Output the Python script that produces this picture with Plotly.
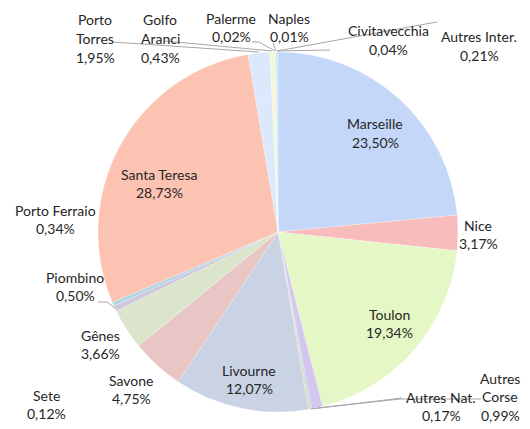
import plotly.graph_objects as go

# ---- data ----
ports = ["Marseille", "Nice", "Toulon", "Autres Corse", "Autres Nat.", "Sete",
         "Livourne", "Savone", "Gênes", "Piombino", "Porto Ferraio", "Santa Teresa",
         "Porto Torres", "Golfo Aranci", "Palerme", "Naples", "Civitavecchia", "Autres Inter."]
shares = [23.50, 3.17, 19.34, 0.99, 0.17, 0.12,
          12.07, 4.75, 3.66, 0.50, 0.34, 28.73,
          1.95, 0.43, 0.02, 0.01, 0.04, 0.21]
label_lines = [["Marseille"], ["Nice"], ["Toulon"], ["Autres", "Corse"], ["Autres Nat."], ["Sete"],
               ["Livourne"], ["Savone"], ["Gênes"], ["Piombino"], ["Porto Ferraio"], ["Santa Teresa"],
               ["Porto", "Torres"], ["Golfo", "Aranci"], ["Palerme"], ["Naples"], ["Civitavecchia"], ["Autres Inter."]]

# ---- style ----
colors = ["#c4d7f8", "#f8bcbc", "#e4f7c4", "#d5c6ee", "#a9dcec", "#f9c18f",
          "#c9d3e4", "#e8c6c6", "#dbe5cc", "#cfc7dd", "#acd6e2", "#fdc3b2",
          "#dce8fb", "#f2f8d4", "#f8d0d0", "#e8f0d8", "#dcd4ee", "#cfeaf3"]
# label positions in pixels (x center, y of first line)
label_pos = [(375, 124), (478, 225), (389, 314), (500, 378), (441, 397), (46, 395),
             (249, 370), (131, 380), (100, 335), (75, 277), (55, 210), (159, 174),
             (95, 20), (160, 20), (231, 18), (289, 18), (388, 31), (479, 37)]
leaders = {
    "Porto Torres": [(112, 42), (259, 52)],
    "Golfo Aranci": [(165, 41), (272, 51)],
    "Palerme": [(252, 42), (259, 42), (275, 51)],
    "Naples": [(273, 43), (276, 51)],
    "Civitavecchia": [(437, 22), (277, 51)],
    "Autres Inter.": [(277, 51), (330, 50)],
    "Piombino": [(98, 302), (107, 302), (115, 308)],
    "Autres Nat.": [(311, 409), (402, 398)],
    "Autres Corse": [(317, 408), (400, 399), (481, 399)],
}

W, H = 530, 429
cx, cy, r = 278, 232, 180
line_h = 18.7

fig = go.Figure(go.Pie(
    labels=ports, values=shares, sort=False, direction="clockwise", rotation=0,
    marker=dict(colors=colors, line=dict(color="rgba(255,255,255,0.5)", width=0.5)),
    textinfo="none", hoverinfo="label+percent",
    domain=dict(x=[(cx - r) / W, (cx + r) / W], y=[(H - cy - r) / H, (H - cy + r) / H]),
    showlegend=False,
))

annotations = []
for name, val, lines, (x, y) in zip(ports, shares, label_lines, label_pos):
    all_lines = lines + [f"{val:.2f}".replace(".", ",") + "%"]
    for i, t in enumerate(all_lines):
        yy = y + i * line_h
        annotations.append(dict(x=x / W, y=1 - yy / H, xref="paper", yref="paper",
                                text=t, showarrow=False, xanchor="center", yanchor="middle",
                                font=dict(family="Lato, 'Open Sans', sans-serif", size=14, color="#262626")))

shapes = []
for name, pts in leaders.items():
    path = "M " + " L ".join(f"{px / W:.5f},{1 - py / H:.5f}" for px, py in pts)
    shapes.append(dict(type="path", xref="paper", yref="paper", path=path,
                       line=dict(color="#a6a6a6", width=1)))

fig.update_layout(width=W, height=H, margin=dict(l=0, r=0, t=0, b=0),
                  paper_bgcolor="white", plot_bgcolor="white",
                  annotations=annotations, shapes=shapes)
fig.write_html("out.html", config={"displayModeBar": False},
               post_script="document.body.style.margin='0px';")
